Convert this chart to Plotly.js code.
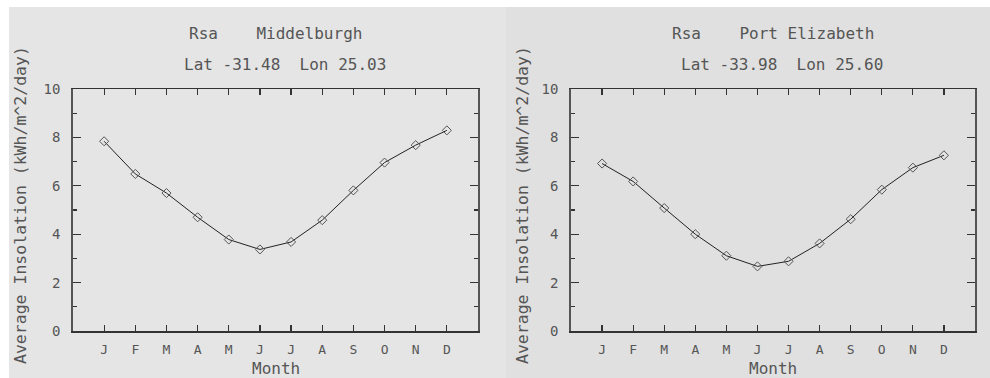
<!DOCTYPE html>
<html>
<head>
<meta charset="utf-8">
<script src="https://cdn.plot.ly/plotly-3.0.1.min.js"></script>
<style>html,body{margin:0;padding:0;background:#fff;}#chart{width:990px;height:378px;}</style>
</head>
<body>
<div id="chart"></div>
<script>
const months = [1,2,3,4,5,6,7,8,9,10,11,12];
const monthLabels = ["J","F","M","A","M","J","J","A","S","O","N","D"];
const middelburgh = [7.84,6.49,5.70,4.70,3.78,3.37,3.68,4.58,5.81,6.96,7.68,8.29];
const portElizabeth = [6.92,6.18,5.08,4.00,3.11,2.67,2.88,3.62,4.62,5.84,6.75,7.26];
const titles1 = ["Rsa\u00a0\u00a0\u00a0\u00a0Middelburgh","Rsa\u00a0\u00a0\u00a0\u00a0Port\u00a0Elizabeth"];
const titles2 = ["Lat\u00a0-31.48\u00a0\u00a0Lon\u00a025.03","Lat\u00a0-33.98\u00a0\u00a0Lon\u00a025.60"];
const yTitle = "Average Insolation (kWh/m^2/day)";
const xTitle = "Month";

const W = 990, H = 378;
const FONT = "DejaVu Sans Mono, Liberation Mono, monospace";
const TXT = "#555555";

function px(x){return x/W;}
function py(y){return (H-y)/H;}

const lineStyle = {color:"#222", width:1};
const markerStyle = {symbol:"diamond-open", size:7, color:"#555", line:{width:1, color:"#555"}};

const traces = [
  {x:months, y:middelburgh, xaxis:"x", yaxis:"y", mode:"lines+markers", line:lineStyle, marker:markerStyle, hoverinfo:"skip"},
  {x:months, y:portElizabeth, xaxis:"x2", yaxis:"y2", mode:"lines+markers", line:lineStyle, marker:markerStyle, hoverinfo:"skip"}
];

function xAx(dom, anchor){
  return {domain:dom, anchor:anchor, range:[0,13], tickvals:months, ticktext:monthLabels,
    ticks:"inside", ticklen:6, tickwidth:1.2, tickcolor:"#333",
    showline:true, linecolor:"#333", linewidth:1.5, mirror:"ticks",
    showgrid:false, zeroline:false, ticklabelstandoff:6,
    tickfont:{family:FONT, size:13, color:TXT}, fixedrange:true};
}
function yAx(anchor){
  return {domain:[py(331), py(89)], anchor:anchor, range:[0,10], tickvals:[0,2,4,6,8,10],
    ticks:"inside", ticklen:8, tickwidth:1.2, tickcolor:"#333",
    minor:{tickvals:[1,3,5,7,9], ticks:"inside", ticklen:4, tickwidth:1.2, tickcolor:"#333", showgrid:false},
    showline:true, linecolor:"#555", linewidth:1.8, mirror:"ticks",
    showgrid:false, zeroline:false, ticklabelstandoff:8,
    tickfont:{family:FONT, size:14, color:TXT}, fixedrange:true};
}

const centers = [275.5, 773];
const t2centers = [285, 782];
const ytx = [20, 522];
const annotations = [];
for (let i=0;i<2;i++){
  annotations.push({xref:"paper", yref:"paper", x:px(centers[i]), y:py(33), text:titles1[i], showarrow:false,
    xanchor:"center", yanchor:"middle", font:{family:FONT, size:16, color:TXT}});
  annotations.push({xref:"paper", yref:"paper", x:px(t2centers[i]), y:py(64), text:titles2[i], showarrow:false,
    xanchor:"center", yanchor:"middle", font:{family:FONT, size:16, color:TXT}});
  annotations.push({xref:"paper", yref:"paper", x:px(ytx[i]), y:py(205), text:yTitle, textangle:-90, showarrow:false,
    xanchor:"center", yanchor:"middle", font:{family:FONT, size:16.5, color:TXT}});
  annotations.push({xref:"paper", yref:"paper", x:px(centers[i]), y:py(368), text:xTitle, showarrow:false,
    xanchor:"center", yanchor:"middle", font:{family:FONT, size:16, color:TXT}});
}

const layout = {
  width:W, height:H, margin:{l:0,r:0,t:0,b:0},
  paper_bgcolor:"#ffffff", plot_bgcolor:"rgba(0,0,0,0)", showlegend:false,
  xaxis:xAx([px(73), px(478)], "y"),
  yaxis:yAx("x"),
  xaxis2:xAx([px(571), px(975)], "y2"),
  yaxis2:yAx("x2"),
  shapes:[
    {type:"rect", xref:"paper", yref:"paper", x0:px(9), x1:px(506), y0:0, y1:py(7), fillcolor:"#e5e5e5", line:{width:0}, layer:"below"},
    {type:"rect", xref:"paper", yref:"paper", x0:px(506), x1:1, y0:0, y1:py(7), fillcolor:"#e0e0e0", line:{width:0}, layer:"below"}
  ],
  annotations:annotations
};

Plotly.newPlot("chart", traces, layout, {displayModeBar:false, staticPlot:true});
</script>
</body>
</html>
